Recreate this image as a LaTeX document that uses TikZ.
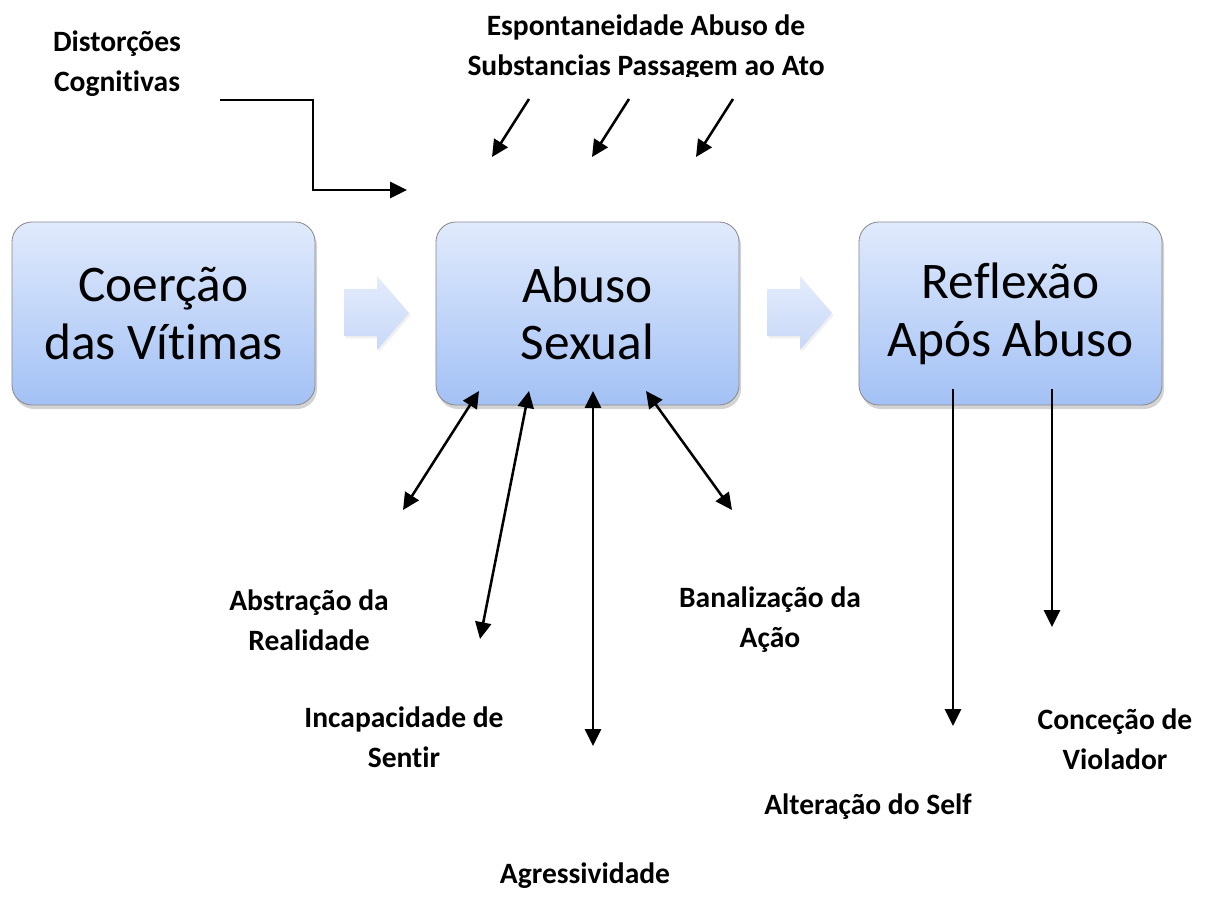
\documentclass[tikz,border=0pt]{standalone}
\usepackage{fontspec}
\setmainfont{Carlito}[Ligatures={NoCommon}]
\usetikzlibrary{arrows.meta,shadows,calc}
\definecolor{boxtop}{HTML}{E0EAFC}
\definecolor{boxbot}{HTML}{A3C1F5}
\definecolor{arrtop}{HTML}{E4ECFC}
\definecolor{arrbot}{HTML}{C8D8F8}
\definecolor{boxline}{HTML}{8A8A8A}

\tikzset{
  etapa/.style={draw=boxline, line width=0.6pt, rounded corners=0.5cm,
    top color=boxtop, bottom color=boxbot, minimum width=7.575cm,
    minimum height=4.575cm, align=center, font=\fontsize{36.5}{41}\selectfont,
    drop shadow={opacity=0.35, shadow xshift=0.5mm, shadow yshift=-1mm}},
  bloco/.style={top color=arrtop, bottom color=arrbot,
    drop shadow={opacity=0.12, shadow xshift=0.4mm, shadow yshift=-0.6mm}},
  rotulo/.style={align=center, inner sep=0pt, font=\fontsize{21}{28.3}\selectfont\bfseries},
  seta/.style={line width=1.8pt, -{Triangle[length=0.42cm,width=0.4cm]}},
  dupla/.style={line width=1.8pt, {Triangle[length=0.42cm,width=0.4cm]}-{Triangle[length=0.42cm,width=0.4cm]}}
}

\begin{document}
\begin{tikzpicture}[x=0.025cm, y=-0.025cm]
\useasboundingbox (0,0) rectangle (1214,898);

% etapas
\node[etapa] (coercao) at (163.5,313.5) {Coerção\\das Vítimas};
\node[etapa] (abuso) at (587.5,313.5) {Abuso\\Sexual};
\node[etapa] (reflexao) at (1010.5,313.5) {Reflexão\\Após Abuso};

% setas largas entre etapas
\foreach \dx in {0,423}
  \path[bloco, shift={(\dx,0)}] (344,289) -- (377,289) -- (377,276) -- (409,313)
    -- (377,350) -- (377,336) -- (344,336) -- cycle;

% rotulos
\node[rotulo] (distorcoes) at (117,64) {Distorções\\Cognitivas};
\begin{scope}
\clip (380,0) rectangle (900,77);
\node[rotulo] (esponta) at (646,48) {Espontaneidade Abuso de\\Substancias Passagem ao Ato};
\end{scope}
\node[rotulo] (abstracao) at (309,620) {Abstração da\\Realidade};
\node[rotulo] (incapac) at (404,737) {Incapacidade de\\Sentir};
\node[rotulo] (agressiv) at (585,876) {Agressividade};
\node[rotulo] (banaliz) at (770,620) {Banalização da\\Ação};
\node[rotulo] (alteracao) at (868,807) {Alteração do Self};
\node[rotulo] (concecao) at (1115,739) {Conceção de\\Violador};

% pontos das setas
\coordinate (d1) at (220,100);
\coordinate (d2) at (313,100);
\coordinate (d3) at (313,190);
\coordinate (d4) at (407,190);
\coordinate (e1) at (529,99);
\coordinate (e2) at (492,157);
\coordinate (p1) at (629,99);
\coordinate (p2) at (592,157);
\coordinate (t1) at (733,99);
\coordinate (t2) at (696,157);
\coordinate (a1) at (479,391);
\coordinate (a2) at (403,510);
\coordinate (i1) at (529,391);
\coordinate (i2) at (480,639);
\coordinate (g1) at (593,391);
\coordinate (g2) at (593,746);
\coordinate (b1) at (646,391);
\coordinate (b2) at (732,510);
\coordinate (s1) at (953,389);
\coordinate (s2) at (953,726);
\coordinate (v1) at (1052,389);
\coordinate (v2) at (1052,627);

\draw[seta] (d1) -- (d2) -- (d3) -- (d4);
\draw[seta] (e1) -- (e2);
\draw[seta] (p1) -- (p2);
\draw[seta] (t1) -- (t2);
\draw[dupla] (a1) -- (a2);
\draw[dupla] (i1) -- (i2);
\draw[dupla] (g1) -- (g2);
\draw[dupla] (b1) -- (b2);
\draw[seta] (s1) -- (s2);
\draw[seta] (v1) -- (v2);
\end{tikzpicture}
\end{document}
